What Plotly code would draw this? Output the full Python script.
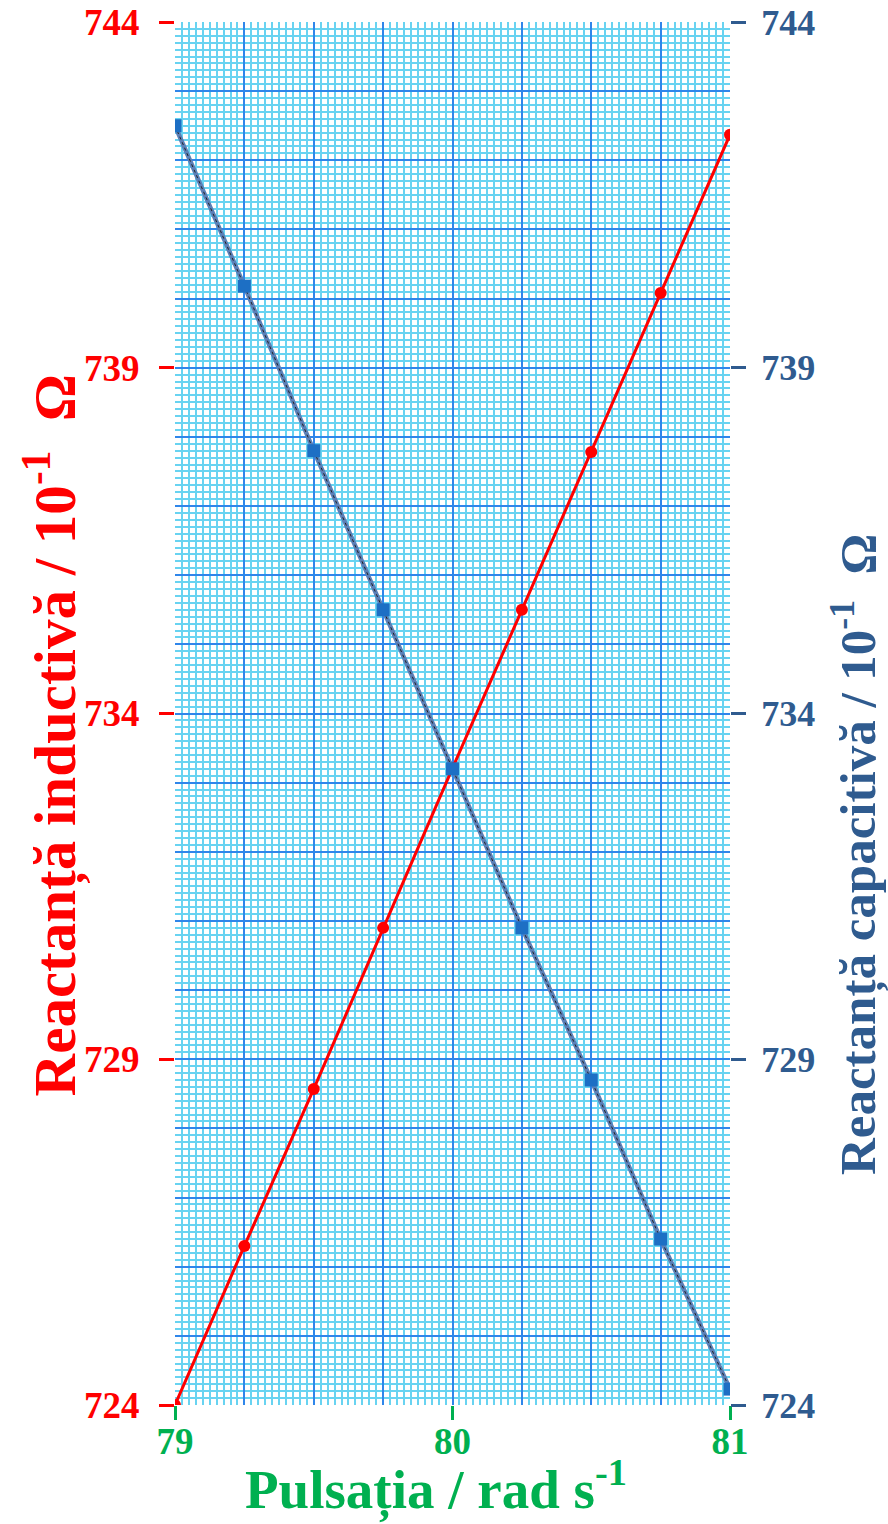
import plotly.graph_objects as go

omega = [79.0, 79.25, 79.5, 79.75, 80.0, 80.25, 80.5, 80.75, 81.0]
x_inductive = [724.0, 726.30, 728.57, 730.90, 733.21, 735.50, 737.78, 740.08, 742.37]
x_capacitive = [742.50, 740.18, 737.80, 735.50, 733.20, 730.90, 728.70, 726.40, 724.23]

x_ticks = [79, 80, 81]
y_ticks = [724, 729, 734, 739, 744]
x_range = [79, 81]
y_range = [724, 744]

RED = "#ff0000"
BLUE_AX = "#2f5b8f"
GREEN = "#00b050"
FONT = "Liberation Serif"

fig = go.Figure()

# invisible trace anchoring the grid subplot
fig.add_trace(go.Scatter(x=omega, y=x_inductive, xaxis="x", yaxis="y",
                         mode="markers", marker=dict(opacity=0), hoverinfo="skip",
                         showlegend=False))

# capacitive reactance: thick line, dashed overlay, square markers
fig.add_trace(go.Scatter(x=omega, y=x_capacitive, xaxis="x2", yaxis="y3", mode="lines",
                         line=dict(color="#5b80b8", width=4.5), showlegend=False))
fig.add_trace(go.Scatter(x=omega, y=x_capacitive, xaxis="x2", yaxis="y3", mode="lines",
                         line=dict(color="#222222", width=1.0, dash="dot"), showlegend=False))
fig.add_trace(go.Scatter(x=omega, y=x_capacitive, xaxis="x2", yaxis="y3", mode="markers",
                         marker=dict(symbol="square", size=13, color="#1d6fc4"),
                         showlegend=False))

# inductive reactance
fig.add_trace(go.Scatter(x=omega, y=x_inductive, xaxis="x2", yaxis="y2", mode="lines+markers",
                         line=dict(color=RED, width=3),
                         marker=dict(symbol="circle", size=12, color=RED),
                         showlegend=False))

tick_font = dict(family=FONT, size=37, weight="bold")

fig.update_layout(
    width=888, height=1524,
    margin=dict(l=175, r=158, t=22, b=119, autoexpand=False),
    paper_bgcolor="white", plot_bgcolor="white",
    showlegend=False,
    xaxis=dict(range=x_range, tick0=79, dtick=0.25, showgrid=True, automargin=False,
               gridcolor="#2f86ea", gridwidth=1.6, ticks="", showticklabels=False,
               zeroline=False, showline=False,
               minor=dict(dtick=0.025, showgrid=True, gridcolor="#68d3f1", gridwidth=2.1)),
    yaxis=dict(range=y_range, tick0=724, dtick=1, showgrid=True, automargin=False,
               gridcolor="#2f86ea", gridwidth=1.6, ticks="", showticklabels=False,
               zeroline=False, showline=False,
               minor=dict(dtick=0.1, showgrid=True, gridcolor="#68d3f1", gridwidth=2.1)),
    xaxis2=dict(range=x_range, overlaying="x", anchor="y", side="bottom", automargin=False,
                tickvals=x_ticks, ticktext=[str(v) for v in x_ticks],
                ticks="outside", ticklen=14, tickwidth=2.5, tickcolor=GREEN,
                tickfont=dict(color=GREEN, **tick_font), ticklabelstandoff=-10,
                showgrid=False, zeroline=False, showline=False),
    yaxis2=dict(range=y_range, overlaying="y", anchor="x", side="left", automargin=False,
                tickvals=y_ticks, ticktext=[str(v) for v in y_ticks],
                ticks="outside", ticklen=15, tickwidth=2.5, tickcolor=RED,
                tickfont=dict(color=RED, **tick_font), ticklabelstandoff=12,
                showgrid=False, zeroline=False, showline=False),
    yaxis3=dict(range=y_range, overlaying="y", anchor="x", side="right", automargin=False,
                tickvals=y_ticks, ticktext=[str(v) for v in y_ticks],
                ticks="outside", ticklen=15, tickwidth=2.5, tickcolor=BLUE_AX,
                tickfont=dict(color=BLUE_AX, family=FONT, size=36, weight="bold"),
                ticklabelstandoff=8,
                showgrid=False, zeroline=False, showline=False),
)

fig.add_annotation(text="Pulsația / rad s<sup>-1</sup>", xref="paper", yref="paper",
                   x=0.47, y=-0.059, xanchor="center", yanchor="middle", showarrow=False,
                   font=dict(family=FONT, size=55, color=GREEN, weight="bold"))
fig.add_annotation(text="Reactanță inductivă / 10<sup>-1</sup>  Ω", xref="paper", yref="paper",
                   x=-0.222, y=0.484, xanchor="center", yanchor="middle", showarrow=False,
                   textangle=-90,
                   font=dict(family=FONT, size=59, color=RED, weight="bold"))
fig.add_annotation(text="Reactanță capacitivă / 10<sup>-1</sup>  Ω", xref="paper", yref="paper",
                   x=1.226, y=0.398, xanchor="center", yanchor="middle", showarrow=False,
                   textangle=-90,
                   font=dict(family=FONT, size=51, color=BLUE_AX, weight="bold"))

fig.write_html("out.html", config={"displayModeBar": False},
               post_script="document.body.style.margin='0px';document.body.style.overflow='hidden';")
